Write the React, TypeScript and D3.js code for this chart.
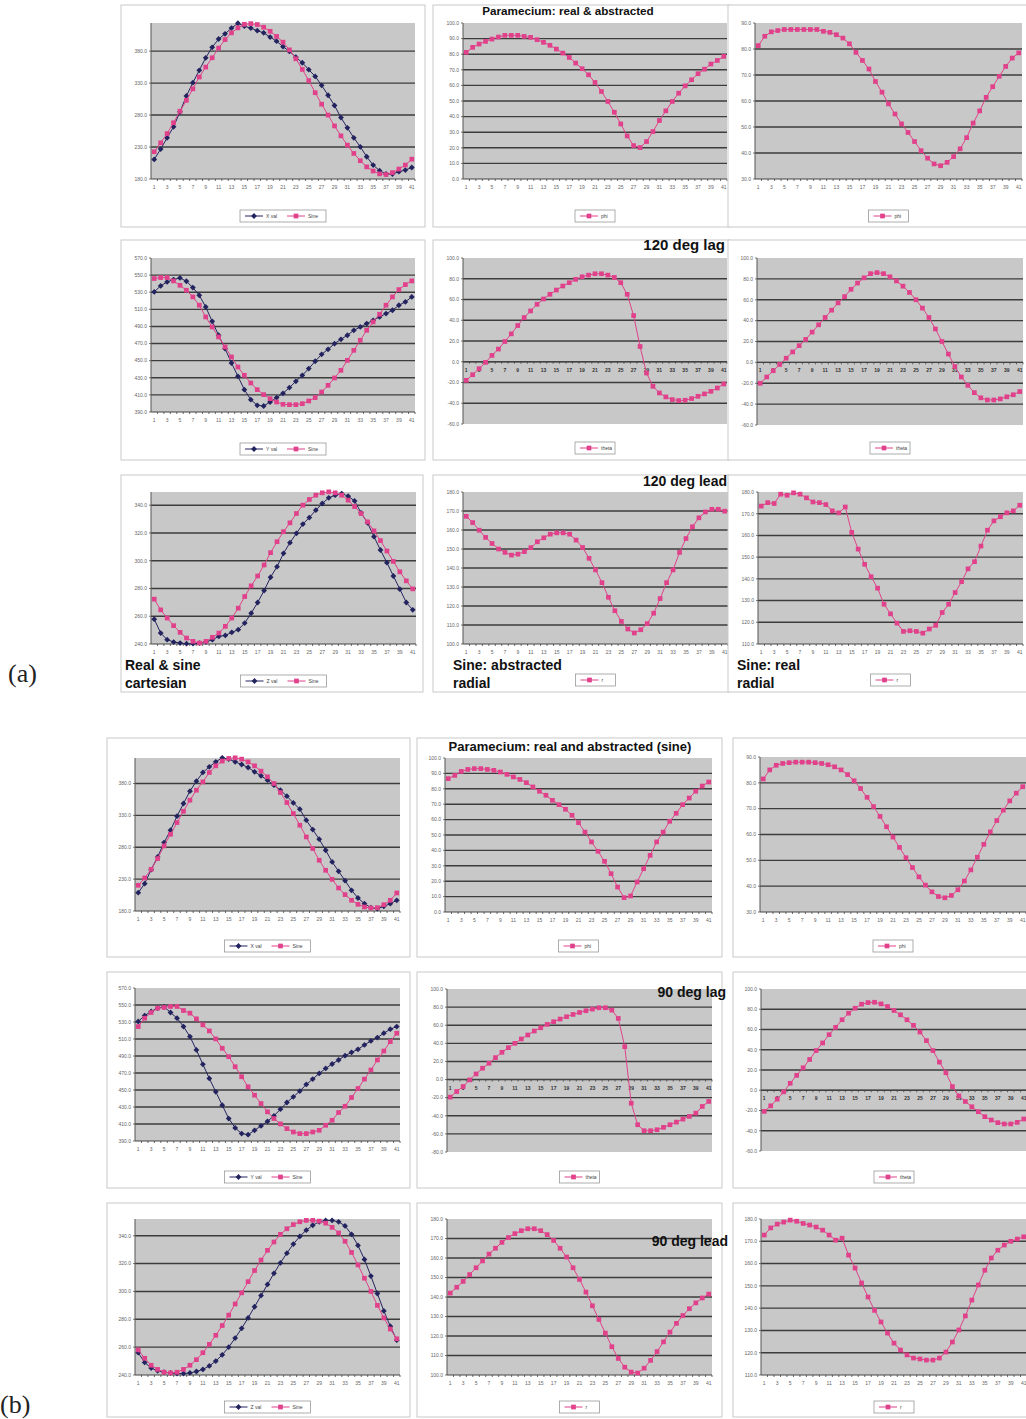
import * as d3 from "d3";

const FONT = '"Liberation Sans", Arial, sans-serif';
const NAVY = "#23235f";
const PINK = "#e0418a";

const CATEGORIES = [
  1, 2, 3, 4, 5, 6, 7, 8, 9, 10, 11, 12, 13, 14, 15, 16, 17, 18, 19, 20, 21,
  22, 23, 24, 25, 26, 27, 28, 29, 30, 31, 32, 33, 34, 35, 36, 37, 38, 39, 40, 41,
];
const X_LABELS = [1, 3, 5, 7, 9, 11, 13, 15, 17, 19, 21, 23, 25, 27, 29, 31, 33, 35, 37, 39, 41];

// y tick values
const TICKS_X = [180, 230, 280, 330, 380];
const TICKS_PHI_ABS = [0, 10, 20, 30, 40, 50, 60, 70, 80, 90, 100];
const TICKS_PHI_REAL = [30, 40, 50, 60, 70, 80, 90];
const TICKS_Y = [390, 410, 430, 450, 470, 490, 510, 530, 550, 570];
const TICKS_THETA = [-60, -40, -20, 0, 20, 40, 60, 80, 100];
const TICKS_THETA_WIDE = [-80, -60, -40, -20, 0, 20, 40, 60, 80, 100];
const TICKS_Z = [240, 260, 280, 300, 320, 340];
const TICKS_R_ABS = [100, 110, 120, 130, 140, 150, 160, 170, 180];
const TICKS_R_REAL = [110, 120, 130, 140, 150, 160, 170, 180];

// (a) 120 degrees
const A_X_VAL = [210.6, 226.8, 244.4, 261.6, 285, 310, 330.6, 350, 369.6, 386, 399, 407, 416, 423.6, 419, 416, 412, 408.6, 402, 395.6, 387, 379.5, 370.6, 361.8, 351, 340.5, 326.5, 311, 295, 276, 260, 244.4, 230.4, 214.8, 201.8, 193, 187.8, 187.8, 191.4, 194, 198];
const A_X_SINE = [222.6, 236.6, 251, 268, 286, 303, 321, 339.5, 355, 369.6, 384.7, 398, 408.6, 416.4, 422, 423, 421.6, 417.4, 411, 403, 394, 382, 368, 351.4, 334, 315, 297, 280, 263, 247.5, 233, 220, 208.6, 199, 192.5, 188, 187, 190, 195.6, 201.8, 211];
const A_PHI_ABS = [81.2, 84.4, 86.5, 88.2, 89.7, 91, 92.1, 92.1, 92.1, 91.4, 90.8, 89.3, 87.6, 85.7, 83.3, 80.7, 77.9, 74.3, 70.7, 66.8, 61.9, 56.1, 49.7, 42.8, 35.3, 27.6, 21.4, 20.1, 24, 30.4, 37.5, 43.7, 49.7, 55, 59.7, 63.6, 67.5, 70.4, 73.7, 76, 78.6];
const A_PHI_REAL = [81.3, 84.9, 86.6, 87.1, 87.5, 87.5, 87.5, 87.5, 87.5, 87.5, 86.8, 86.4, 85.5, 84.2, 82, 78.7, 75.6, 72.3, 67.5, 63.4, 58.9, 55, 51.2, 47.9, 44.4, 40.9, 38, 35.8, 35.1, 36.4, 38.6, 41.6, 45.9, 51.5, 56.2, 61.4, 65.5, 69.5, 73.3, 76.5, 78.5];
const A_Y_VAL = [530.4, 537.4, 542, 544.8, 546.7, 542.8, 535.4, 526.4, 512.8, 496, 479.7, 464, 447.3, 431.7, 416.1, 404.4, 397.8, 397, 401.7, 406.8, 411.8, 418.5, 425.9, 432.9, 440.7, 449.3, 457.4, 463.3, 469.9, 475, 479.7, 485.5, 489.4, 493.3, 497.2, 501.1, 505, 508.9, 514.8, 518.7, 524.5];
const A_Y_SINE = [546, 547.1, 547.1, 543.2, 538.1, 532.3, 524.5, 514.8, 501.1, 489.4, 477.7, 466, 454.3, 442.6, 432.9, 423.9, 416.1, 410.3, 405.6, 401.7, 399, 398.6, 398.6, 399.7, 402.9, 406.8, 413.4, 421.2, 429.8, 438.7, 450.4, 462.1, 473.8, 485.5, 495.3, 504.2, 514.8, 524.5, 533.1, 538.9, 543.2];
const A_THETA_ABS = [-17.9, -12.5, -6.7, -0.6, 6.1, 12.2, 19.5, 26.9, 34.9, 42.6, 49, 55.4, 60.5, 65, 69.1, 73, 76.2, 79.4, 81.9, 83.5, 84.8, 84.8, 83.5, 81.3, 76.2, 65, 44.5, 14.7, -10.9, -23.7, -30.1, -33.9, -36.5, -37.4, -37.1, -35.5, -33.3, -31, -28.5, -25.3, -21.4];
const A_THETA_REAL = [-20, -14, -8, -2, 4, 10, 16, 22, 29, 36, 43, 50, 57, 63, 70, 76, 81, 85, 86, 85, 82, 78, 73, 67, 60, 52, 43, 32, 20, 8, -4, -14, -22, -29, -34, -36, -36, -35, -33, -31, -28];
const A_Z_VAL = [257.9, 247.9, 243.1, 241.4, 240.7, 240.2, 240.2, 240.7, 241.4, 243.1, 245.5, 246.2, 248.4, 250.3, 255.1, 262.2, 269.9, 278.5, 288.1, 295.7, 305.3, 313, 319.7, 326.4, 331.1, 336.4, 341.2, 345.3, 347.2, 348.4, 346.5, 343.1, 334.5, 327.3, 317.3, 307.7, 298.6, 289, 279.5, 269.9, 264.6];
const A_Z_SINE = [272.3, 264.6, 258.7, 253.2, 248.4, 244.3, 241.9, 240.7, 241.9, 244.8, 247.9, 252.7, 258.7, 265.8, 274.2, 281.9, 289, 296.9, 305.8, 313.7, 320.9, 327.3, 334, 340, 344.1, 347.2, 348.9, 349.6, 348.9, 347.2, 343.6, 339, 334, 328, 321.5, 314.5, 307, 299.5, 292, 285.5, 279.7];
const A_R_ABS = [167.2, 163.9, 159.9, 156.1, 152.9, 150, 148.2, 146.8, 147.3, 148.6, 150.7, 153.8, 155.9, 157.8, 158.5, 158.5, 157.8, 154.7, 150.8, 145.1, 139, 132.3, 124.6, 117.5, 111.9, 107.9, 105.8, 107.5, 110.7, 116.2, 123.9, 132.3, 139, 148.2, 155.5, 161.7, 166.4, 169.5, 170.9, 170.9, 169.9];
const A_R_REAL = [173.5, 175.1, 174.7, 179, 178.5, 179.6, 179, 177.3, 175.4, 175.1, 174.2, 171.3, 170.4, 173.1, 161.4, 153.7, 146.7, 141, 135.7, 128.3, 123.9, 119.6, 115.8, 116.1, 115.8, 115, 116.9, 118.6, 124.5, 128.3, 133.7, 138.7, 144.6, 147.9, 155.1, 162.4, 166.7, 168.6, 170.4, 171.3, 173.9];

// (b) 90 degrees
const B_X_VAL = [208.8, 222.9, 244.9, 264.8, 287.3, 306.7, 328.7, 348.6, 368, 383.7, 397.3, 406.2, 414, 420.3, 418.2, 414, 409.8, 405.1, 398.3, 392, 385.2, 377.4, 369.5, 360.1, 349.6, 339.7, 322.4, 307.7, 292.6, 275.3, 257, 242.3, 227.6, 212.5, 200.4, 191.5, 185.2, 183.7, 187.3, 191.5, 196.8];
const B_X_SINE = [220.3, 231.8, 245.4, 262.2, 282.1, 300.4, 318.7, 336.5, 353.8, 369.5, 382.6, 397.3, 407.7, 415.1, 419.3, 420.3, 418.2, 414, 407.7, 399.4, 390.5, 380, 365.9, 350.2, 332.9, 314.6, 296.2, 277.9, 259.6, 243.9, 229.7, 216.1, 205.7, 196.8, 190.5, 186.3, 184.7, 185.2, 189.9, 196.8, 208.3];
const B_PHI_ABS = [86.6, 88.7, 91.3, 92.6, 93.1, 93.1, 92.6, 92, 90.9, 89.4, 87.7, 86.1, 84, 81.2, 78.4, 75.8, 72.5, 69.7, 66.7, 62.8, 58, 51.9, 45.5, 39.4, 32.9, 24.9, 16.2, 9.3, 10.4, 19.5, 28.1, 36.8, 45.5, 51.9, 58.9, 64.1, 69.7, 74, 78.4, 81.8, 84.4];
const B_PHI_REAL = [81.5, 85, 86.8, 87.5, 87.8, 88, 88, 88, 87.8, 87.5, 87, 86.2, 85, 83.2, 80.8, 77.8, 74.4, 70.8, 67, 63, 59, 55, 51, 47.2, 43.6, 40.4, 37.8, 36, 35.5, 36.4, 38.6, 42, 46.3, 51.2, 56.2, 61, 65.4, 69.4, 73, 76, 78.5];
const B_Y_VAL = [530.6, 537.6, 542.4, 546.3, 547.9, 541.2, 534.5, 524.6, 512.8, 497.1, 480.2, 463.6, 447.9, 432.1, 416.4, 405.4, 398.7, 397.5, 402.6, 407.7, 413.2, 419.5, 427.4, 435.3, 442, 448.7, 456.5, 462.8, 469.5, 475.4, 480.6, 485.3, 490.4, 494.3, 497.9, 503, 507.7, 511.7, 516.8, 521.5, 524.6];
const B_Y_SINE = [524.6, 534.5, 541.2, 546.3, 547.1, 548.3, 548.3, 543.5, 540.4, 533.7, 526.6, 519.5, 510.1, 499.1, 489.2, 477.4, 465.6, 453.8, 443.9, 434.1, 424.3, 416.4, 410.1, 404.6, 400.6, 398.7, 398.7, 400.6, 402.6, 408.5, 414.4, 423.5, 430.9, 441.2, 451.8, 462.8, 473.5, 485.3, 495.9, 506.9, 516.8];
const B_THETA_ABS = [-19.4, -13.2, -7.7, -0.4, 6.2, 12.5, 18, 24.2, 30.1, 35.2, 40, 44.8, 49.2, 53.6, 57.2, 60.9, 63.9, 66.8, 69.4, 71.9, 74.1, 76, 77.8, 79.3, 79.3, 76.7, 67.5, 36.3, -26.1, -49.9, -56.5, -56.5, -55.4, -52.8, -49.9, -47, -43.7, -40.7, -37.1, -29.7, -24.2];
const B_THETA_REAL = [-20.9, -15.4, -8.8, -1.6, 6.9, 14.7, 22.2, 30.4, 39.2, 46.7, 54.9, 62.1, 69.6, 76.1, 81, 85, 86.6, 86.9, 85.3, 82.7, 78.8, 74.5, 69.6, 64.1, 57.5, 49, 39.2, 27.8, 17.3, 3.6, -5.6, -11.1, -16.3, -21.2, -26.1, -29.4, -32, -33.3, -33.3, -31.7, -28.4];
const B_Z_VAL = [256, 249, 245, 243, 242, 241.5, 241, 241, 241.5, 242.5, 244, 246.5, 250, 254.5, 260, 266.5, 273.5, 281, 289, 297, 305, 313, 320.5, 327.5, 334, 339.5, 344, 347.5, 350, 351, 351, 350, 347, 341, 333, 323, 311, 298.5, 286, 275, 265];
const B_Z_SINE = [258, 252, 247, 244, 242, 241.5, 242, 244, 247, 251, 256, 262, 268.5, 275.5, 283, 291, 299, 307, 315, 322.5, 329.5, 335.5, 341, 345, 348, 350, 351, 351, 350.5, 349, 346, 342, 336, 328, 319, 309.5, 300, 290, 281, 273, 266];
const B_R_ABS = [142, 145, 148, 151.5, 155, 158.5, 162, 165, 168, 170.5, 172.5, 174, 175, 175, 174, 172, 169, 165, 160.5, 155, 149, 142.5, 135.5, 128.5, 121.5, 114.5, 108.5, 104, 101.5, 101, 103.5, 107.5, 112, 117, 122, 126.5, 130.5, 134, 137, 139.5, 141.5];
const B_R_REAL = [172.8, 176, 177.7, 178.6, 179.5, 179, 178, 177.3, 176.4, 175, 172.8, 170.5, 171.4, 163.8, 158, 151.3, 145, 139, 133.8, 128.8, 124.3, 121.2, 119, 117.6, 117.2, 116.7, 116.7, 117.6, 120.3, 124.8, 130.2, 136.5, 143.6, 150.4, 157, 162.5, 166, 168.3, 170, 171, 172];

type Series = { values: number[]; name: string; color: string; marker: "diamond" | "square" };
type PanelCfg = {
  box: number[];
  plot: number[];
  domain: number[];
  ticks: number[];
  series: Series[];
  legendY: number;
  zeroAxis?: boolean;
};

const navy = (values: number[], name: string): Series => ({ values, name, color: NAVY, marker: "diamond" });
const pink = (values: number[], name: string): Series => ({ values, name, color: PINK, marker: "square" });

const PANELS: PanelCfg[] = [
  { box: [121, 5, 304, 222], plot: [151, 23, 264, 156], domain: [180, 424], ticks: TICKS_X, series: [navy(A_X_VAL, "X val"), pink(A_X_SINE, "Sine")], legendY: 210 },
  { box: [433, 5, 297, 222], plot: [463, 23, 264, 156], domain: [0, 100], ticks: TICKS_PHI_ABS, series: [pink(A_PHI_ABS, "phi")], legendY: 210 },
  { box: [728, 5, 310, 222], plot: [755, 23, 267, 156], domain: [30, 90], ticks: TICKS_PHI_REAL, series: [pink(A_PHI_REAL, "phi")], legendY: 210 },
  { box: [121, 240, 304, 220], plot: [151, 258, 264, 154], domain: [390, 570], ticks: TICKS_Y, series: [navy(A_Y_VAL, "Y val"), pink(A_Y_SINE, "Sine")], legendY: 443 },
  { box: [433, 240, 297, 220], plot: [463, 258, 264, 166], domain: [-60, 100], ticks: TICKS_THETA, series: [pink(A_THETA_ABS, "theta")], legendY: 442, zeroAxis: true },
  { box: [728, 240, 310, 220], plot: [757, 258, 266, 167], domain: [-60, 100], ticks: TICKS_THETA, series: [pink(A_THETA_REAL, "theta")], legendY: 442, zeroAxis: true },
  { box: [121, 475, 302, 217], plot: [151, 492, 265, 152], domain: [240, 349.5], ticks: TICKS_Z, series: [navy(A_Z_VAL, "Z val"), pink(A_Z_SINE, "Sine")], legendY: 675 },
  { box: [433, 475, 297, 217], plot: [463, 492, 265, 152], domain: [100, 180], ticks: TICKS_R_ABS, series: [pink(A_R_ABS, "r")], legendY: 674 },
  { box: [728, 475, 310, 217], plot: [758, 492, 265, 152], domain: [110, 180], ticks: TICKS_R_REAL, series: [pink(A_R_REAL, "r")], legendY: 674 },

  { box: [107, 738, 303, 219], plot: [135, 758, 265, 153], domain: [180, 420], ticks: TICKS_X, series: [navy(B_X_VAL, "X val"), pink(B_X_SINE, "Sine")], legendY: 940 },
  { box: [417, 738, 305, 219], plot: [445, 758, 267, 154], domain: [0, 100], ticks: TICKS_PHI_ABS, series: [pink(B_PHI_ABS, "phi")], legendY: 940 },
  { box: [733, 738, 300, 219], plot: [760, 757, 266, 155], domain: [30, 90], ticks: TICKS_PHI_REAL, series: [pink(B_PHI_REAL, "phi")], legendY: 940 },
  { box: [107, 972, 303, 216], plot: [135, 988, 265, 153], domain: [390, 570], ticks: TICKS_Y, series: [navy(B_Y_VAL, "Y val"), pink(B_Y_SINE, "Sine")], legendY: 1171 },
  { box: [417, 972, 305, 216], plot: [447, 989, 265, 163], domain: [-80, 100], ticks: TICKS_THETA_WIDE, series: [pink(B_THETA_ABS, "theta")], legendY: 1171, zeroAxis: true },
  { box: [733, 972, 300, 216], plot: [761, 989, 266, 162], domain: [-60, 100], ticks: TICKS_THETA, series: [pink(B_THETA_REAL, "theta")], legendY: 1171, zeroAxis: true },
  { box: [107, 1203, 303, 214], plot: [135, 1219, 265, 156], domain: [240, 352], ticks: TICKS_Z, series: [navy(B_Z_VAL, "Z val"), pink(B_Z_SINE, "Sine")], legendY: 1401 },
  { box: [417, 1203, 305, 214], plot: [447, 1219, 265, 156], domain: [100, 180], ticks: TICKS_R_ABS, series: [pink(B_R_ABS, "r")], legendY: 1401 },
  { box: [733, 1203, 300, 214], plot: [761, 1219, 266, 156], domain: [110, 180], ticks: TICKS_R_REAL, series: [pink(B_R_REAL, "r")], legendY: 1401 },
];

// bold captions placed on the figure
const CAPTIONS = [
  { text: "Paramecium: real & abstracted", x: 568, y: 15, size: 11.7, anchor: "middle" },
  { text: "120 deg lag", x: 725, y: 250, size: 15, anchor: "end" },
  { text: "120 deg lead", x: 727, y: 486, size: 14, anchor: "end" },
  { text: "Real & sine", x: 125, y: 670, size: 14, anchor: "start" },
  { text: "cartesian", x: 125, y: 688, size: 14, anchor: "start" },
  { text: "Sine: abstracted", x: 453, y: 670, size: 14, anchor: "start" },
  { text: "radial", x: 453, y: 688, size: 14, anchor: "start" },
  { text: "Sine: real", x: 737, y: 670, size: 14, anchor: "start" },
  { text: "radial", x: 737, y: 688, size: 14, anchor: "start" },
  { text: "Paramecium: real and abstracted (sine)", x: 570, y: 751, size: 13, anchor: "middle" },
  { text: "90 deg lag", x: 726, y: 997, size: 14, anchor: "end" },
  { text: "90 deg lead", x: 728, y: 1246, size: 14, anchor: "end" },
];

function markerPath(kind: string) {
  if (kind === "diamond") {
    // small rotated square, reads as a dot at this size
    return "M0,-2.9L2.9,0L0,2.9L-2.9,0Z";
  }
  return d3.symbol().type(d3.symbolSquare).size(22)() as string;
}

function Panel({ p }: { p: PanelCfg }) {
  const [px, py, pw, ph] = p.plot;
  const x = d3.scalePoint<number>().domain(CATEGORIES).range([px, px + pw]).padding(0.5);
  const y = d3.scaleLinear().domain(p.domain).range([py + ph, py]);
  const axisY = p.zeroAxis ? y(0) : py + ph;
  const step = x.step();
  const line = d3
    .line<number>()
    .x((_, i) => x(CATEGORIES[i]) as number)
    .y((v) => y(v));

  const legendW = p.series.length > 1 ? 86 : 40;
  const legendX = px + pw / 2 - legendW / 2;
  const [bx, by, bw, bh] = p.box;

  return (
    <g>
      <rect x={bx} y={by} width={bw} height={bh} fill="#fff" stroke="#c9c9c9" strokeWidth={1} />
      <rect x={px} y={py} width={pw} height={ph} fill="#c8c8c8" />
      {p.ticks
        .filter((t) => t !== p.domain[0] && t !== p.domain[1])
        .map((t) => (
          <line key={t} x1={px} x2={px + pw} y1={y(t)} y2={y(t)} stroke="#3c3c3c" strokeWidth={1.4} />
        ))}
      <line x1={px} x2={px} y1={py} y2={py + ph} stroke="#555" strokeWidth={1} />
      <line x1={px} x2={px + pw} y1={axisY} y2={axisY} stroke="#444" strokeWidth={1} />
      {CATEGORIES.map((c) => (
        <line
          key={c}
          x1={(x(c) as number) + step / 2}
          x2={(x(c) as number) + step / 2}
          y1={axisY}
          y2={axisY + 2}
          stroke="#444"
          strokeWidth={0.8}
        />
      ))}
      {p.ticks.map((t) => (
        <line key={"t" + t} x1={px - 2} x2={px} y1={y(t)} y2={y(t)} stroke="#555" strokeWidth={0.8} />
      ))}
      {p.ticks.map((t) => (
        <text key={"l" + t} x={px - 4} y={y(t) + 1.8} fontSize={5} fill="#666" textAnchor="end" fontFamily={FONT}>
          {t.toFixed(1)}
        </text>
      ))}
      {X_LABELS.map((c) => (
        <text
          key={"x" + c}
          x={x(c) as number}
          y={axisY + 10}
          fontSize={5}
          fill={p.zeroAxis ? "#333" : "#666"}
          fontWeight={p.zeroAxis ? 700 : 400}
          textAnchor="middle"
          fontFamily={FONT}
        >
          {c}
        </text>
      ))}
      {p.series.map((s) => (
        <g key={s.name}>
          <path d={line(s.values) as string} fill="none" stroke={s.color} strokeWidth={1} />
          {s.values.map((v, i) => (
            <path
              key={i}
              d={markerPath(s.marker)}
              transform={`translate(${x(CATEGORIES[i])},${y(v)})`}
              fill={s.color}
            />
          ))}
        </g>
      ))}
      <rect x={legendX} y={p.legendY} width={legendW} height={12} fill="#fff" stroke="#9a9a9a" strokeWidth={0.8} />
      {p.series.map((s, i) => {
        const lx = legendX + 5 + i * 42;
        const ly = p.legendY + 6;
        return (
          <g key={"lg" + s.name}>
            <line x1={lx} x2={lx + 18} y1={ly} y2={ly} stroke={s.color} strokeWidth={1} />
            <path d={markerPath(s.marker)} transform={`translate(${lx + 9},${ly})`} fill={s.color} />
            <text x={lx + 21} y={ly + 1.8} fontSize={5} fill="#444" fontFamily={FONT}>
              {s.name}
            </text>
          </g>
        );
      })}
    </g>
  );
}

export default function App() {
  return (
    <svg
      width={1026}
      height={1419}
      viewBox="0 0 1026 1419"
      style={{ position: "absolute", left: 0, top: 0, background: "#fff", display: "block" }}
    >
      {PANELS.map((p, i) => (
        <Panel key={i} p={p} />
      ))}
      {CAPTIONS.map((c, i) => (
        <text
          key={i}
          x={c.x}
          y={c.y}
          fontSize={c.size}
          fontWeight={700}
          fontFamily={FONT}
          textAnchor={c.anchor}
          fill="#111"
        >
          {c.text}
        </text>
      ))}
      <text x={8} y={682} fontSize={26} fontFamily='"Liberation Serif", "DejaVu Serif", serif' fill="#222">
        (a)
      </text>
      <text x={0} y={1413} fontSize={26} fontFamily='"Liberation Serif", "DejaVu Serif", serif' fill="#222">
        (b)
      </text>
    </svg>
  );
}
